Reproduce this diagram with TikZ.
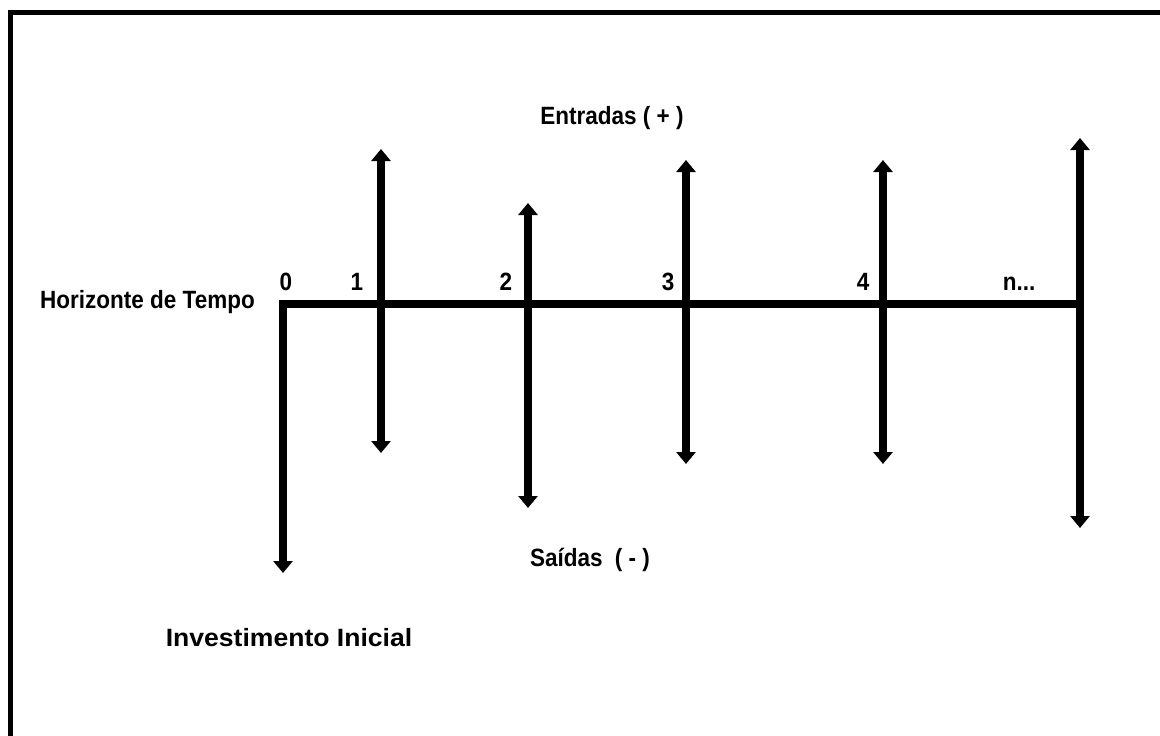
\documentclass[tikz,border=0pt]{standalone}
\usepackage{fontspec}
\setmainfont{Liberation Sans}[FakeStretch=0.9]
\usetikzlibrary{arrows.meta}
\begin{document}
\begin{tikzpicture}[x=1pt,y=-1pt,
  flow/.style={line width=8pt,-{Triangle[width=19pt,length=12pt]}},
  axisline/.style={line width=8pt},
  lbl/.style={font=\bfseries\fontsize{25}{28}\selectfont,inner sep=0pt,anchor=base},
  framel/.style={line width=5.5pt}]
\useasboundingbox (0,0) rectangle (1160,736);
\draw[framel] (10.5,736) -- (10.5,12.5) -- (1160,12.5);
% axis points
\coordinate (p0) at (283,304);
\coordinate (p1) at (381,304);
\coordinate (p2) at (528,304);
\coordinate (p3) at (686,304);
\coordinate (p4) at (883,304);
\coordinate (pn) at (1080,304);
\coordinate (a0) at (279,304);
\coordinate (an) at (1084,304);
% ends
\coordinate (d0) at (283,573);
\coordinate (u1) at (381,149);
\coordinate (d1) at (381,453);
\coordinate (u2) at (528,203);
\coordinate (d2) at (528,508);
\coordinate (u3) at (686,160);
\coordinate (d3) at (686,464);
\coordinate (u4) at (883,160);
\coordinate (d4) at (883,464);
\coordinate (un) at (1080,138);
\coordinate (dn) at (1080,528);
\draw[axisline] (a0) -- (an);
\draw[flow] ([yshift=-4pt]p0) -- (d0);
\foreach \k in {1,2,3,4,n}{
  \draw[flow] (p\k) -- (u\k);
  \draw[flow] (p\k) -- (d\k);
}
% labels
\node[lbl] (l0) at (286,290) {0};
\node[lbl] (l1) at (357,290) {1};
\node[lbl] (l2) at (506,290) {2};
\node[lbl] (l3) at (668,290) {3};
\node[lbl] (l4) at (863,290) {4};
\node[lbl] (ln) at (1019,290) {n...};
\node[lbl] (hz) at (147.5,308) {Horizonte de Tempo};
\node[lbl] (en) at (612,124) {Entradas ( + )};
\node[lbl] (sa) at (590,566) {Saídas\hspace{6pt} ( - )};
\node[lbl] (ii) at (289,646) {\scalebox{1.18}[1]{Investimento Inicial}};
\end{tikzpicture}
\end{document}
